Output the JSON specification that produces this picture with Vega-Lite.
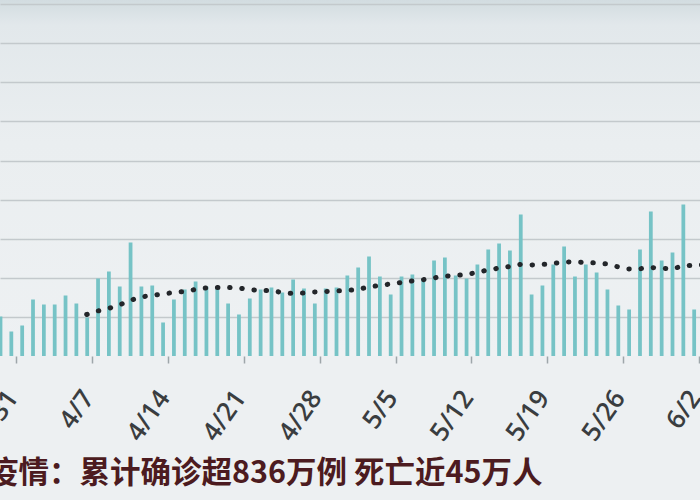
{
  "$schema": "https://vega.github.io/schema/vega-lite/v6.json",
  "width": 700,
  "height": 356,
  "autosize": {"type": "none"},
  "padding": {"left": 0, "top": 0, "right": 0, "bottom": 144},
  "background": "#edf0f2",
  "config": {
    "view": {
      "stroke": null,
      "fill": {
        "gradient": "linear", "x1": 0, "y1": 0, "x2": 0, "y2": 1,
        "stops": [
          {"offset": 0, "color": "#d2dce0"},
          {"offset": 0.07, "color": "#e2e8eb"},
          {"offset": 0.4, "color": "#eaeef0"},
          {"offset": 1, "color": "#eef1f3"}
        ]
      }
    }
  },
  "title": {
    "text": "疫情：累计确诊超836万例 死亡近45万人",
    "orient": "bottom",
    "anchor": "start",
    "frame": "group",
    "dx": -12,
    "offset": 14,
    "font": "Noto Sans CJK SC",
    "fontSize": 30.5,
    "fontWeight": "bold",
    "color": "#4c1b20"
  },
  "datasets": {
    "bars": [
      {"date": "2020-03-29", "cases": 20200},
      {"date": "2020-03-30", "cases": 12530},
      {"date": "2020-03-31", "cases": 15600},
      {"date": "2020-04-01", "cases": 28900},
      {"date": "2020-04-02", "cases": 26340},
      {"date": "2020-04-03", "cases": 26340},
      {"date": "2020-04-04", "cases": 30950},
      {"date": "2020-04-05", "cases": 26850},
      {"date": "2020-04-06", "cases": 19690},
      {"date": "2020-04-07", "cases": 39640},
      {"date": "2020-04-08", "cases": 43220},
      {"date": "2020-04-09", "cases": 35550},
      {"date": "2020-04-10", "cases": 58060},
      {"date": "2020-04-11", "cases": 35550},
      {"date": "2020-04-12", "cases": 36060},
      {"date": "2020-04-13", "cases": 17140},
      {"date": "2020-04-14", "cases": 28900},
      {"date": "2020-04-15", "cases": 34020},
      {"date": "2020-04-16", "cases": 38110},
      {"date": "2020-04-17", "cases": 35550},
      {"date": "2020-04-18", "cases": 35550},
      {"date": "2020-04-19", "cases": 26850},
      {"date": "2020-04-20", "cases": 21230},
      {"date": "2020-04-21", "cases": 29410},
      {"date": "2020-04-22", "cases": 34020},
      {"date": "2020-04-23", "cases": 35040},
      {"date": "2020-04-24", "cases": 32480},
      {"date": "2020-04-25", "cases": 39130},
      {"date": "2020-04-26", "cases": 34530},
      {"date": "2020-04-27", "cases": 26850},
      {"date": "2020-04-28", "cases": 34530},
      {"date": "2020-04-29", "cases": 35040},
      {"date": "2020-04-30", "cases": 41180},
      {"date": "2020-05-01", "cases": 45270},
      {"date": "2020-05-02", "cases": 50900},
      {"date": "2020-05-03", "cases": 40660},
      {"date": "2020-05-04", "cases": 31460},
      {"date": "2020-05-05", "cases": 40660},
      {"date": "2020-05-06", "cases": 41690},
      {"date": "2020-05-07", "cases": 39640},
      {"date": "2020-05-08", "cases": 48850},
      {"date": "2020-05-09", "cases": 50380},
      {"date": "2020-05-10", "cases": 41180},
      {"date": "2020-05-11", "cases": 39640},
      {"date": "2020-05-12", "cases": 46800},
      {"date": "2020-05-13", "cases": 54480},
      {"date": "2020-05-14", "cases": 57540},
      {"date": "2020-05-15", "cases": 53960},
      {"date": "2020-05-16", "cases": 72380},
      {"date": "2020-05-17", "cases": 31460},
      {"date": "2020-05-18", "cases": 36060},
      {"date": "2020-05-19", "cases": 46800},
      {"date": "2020-05-20", "cases": 56010},
      {"date": "2020-05-21", "cases": 40660},
      {"date": "2020-05-22", "cases": 46800},
      {"date": "2020-05-23", "cases": 42710},
      {"date": "2020-05-24", "cases": 34020},
      {"date": "2020-05-25", "cases": 25830},
      {"date": "2020-05-26", "cases": 23790},
      {"date": "2020-05-27", "cases": 54480},
      {"date": "2020-05-28", "cases": 73910},
      {"date": "2020-05-29", "cases": 48850},
      {"date": "2020-05-30", "cases": 52940},
      {"date": "2020-05-31", "cases": 77490},
      {"date": "2020-06-01", "cases": 23790}
    ],
    "ma": [
      {"date": "2020-04-06", "avg": 21230},
      {"date": "2020-04-07", "avg": 23020},
      {"date": "2020-04-08", "avg": 24300},
      {"date": "2020-04-09", "avg": 26090},
      {"date": "2020-04-10", "avg": 28390},
      {"date": "2020-04-11", "avg": 30180},
      {"date": "2020-04-12", "avg": 30950},
      {"date": "2020-04-13", "avg": 31710},
      {"date": "2020-04-14", "avg": 32480},
      {"date": "2020-04-15", "avg": 32990},
      {"date": "2020-04-16", "avg": 34020},
      {"date": "2020-04-17", "avg": 34780},
      {"date": "2020-04-18", "avg": 35040},
      {"date": "2020-04-19", "avg": 35040},
      {"date": "2020-04-20", "avg": 34780},
      {"date": "2020-04-21", "avg": 34020},
      {"date": "2020-04-22", "avg": 33500},
      {"date": "2020-04-23", "avg": 33500},
      {"date": "2020-04-24", "avg": 32480},
      {"date": "2020-04-25", "avg": 31970},
      {"date": "2020-04-26", "avg": 32220},
      {"date": "2020-04-27", "avg": 32740},
      {"date": "2020-04-28", "avg": 32990},
      {"date": "2020-04-29", "avg": 33250},
      {"date": "2020-04-30", "avg": 33500},
      {"date": "2020-05-01", "avg": 34020},
      {"date": "2020-05-02", "avg": 35290},
      {"date": "2020-05-03", "avg": 36060},
      {"date": "2020-05-04", "avg": 36830},
      {"date": "2020-05-05", "avg": 37600},
      {"date": "2020-05-06", "avg": 38360},
      {"date": "2020-05-07", "avg": 38980},
      {"date": "2020-05-08", "avg": 39900},
      {"date": "2020-05-09", "avg": 40820},
      {"date": "2020-05-10", "avg": 41180},
      {"date": "2020-05-11", "avg": 41690},
      {"date": "2020-05-12", "avg": 42710},
      {"date": "2020-05-13", "avg": 43990},
      {"date": "2020-05-14", "avg": 44910},
      {"date": "2020-05-15", "avg": 45780},
      {"date": "2020-05-16", "avg": 46800},
      {"date": "2020-05-17", "avg": 46550},
      {"date": "2020-05-18", "avg": 46800},
      {"date": "2020-05-19", "avg": 47310},
      {"date": "2020-05-20", "avg": 48080},
      {"date": "2020-05-21", "avg": 48180},
      {"date": "2020-05-22", "avg": 47830},
      {"date": "2020-05-23", "avg": 47570},
      {"date": "2020-05-24", "avg": 47060},
      {"date": "2020-05-25", "avg": 45630},
      {"date": "2020-05-26", "avg": 44500},
      {"date": "2020-05-27", "avg": 44600},
      {"date": "2020-05-28", "avg": 45270},
      {"date": "2020-05-29", "avg": 45010},
      {"date": "2020-05-30", "avg": 44500},
      {"date": "2020-05-31", "avg": 46040},
      {"date": "2020-06-01", "avg": 46450},
      {"date": "2020-06-02", "avg": 46550}
    ]
  },
  "layer": [
    {
      "data": {"name": "bars"},
      "mark": {"type": "bar", "width": {"band": 0.44}, "color": "#76c3c6", "clip": true},
      "encoding": {
        "x": {
          "field": "date",
          "timeUnit": "utcyearmonthdate",
          "type": "temporal",
          "scale": {
            "domain": [
              {"year": 2020, "month": 3, "date": 29, "hours": 12, "utc": true},
              {"year": 2020, "month": 6, "date": 2, "hours": 2, "utc": true}
            ],
            "nice": false
          },
          "axis": {
            "title": null,
            "values": [
              {"year": 2020, "month": 3, "date": 31, "utc": true},
              {"year": 2020, "month": 4, "date": 7, "utc": true},
              {"year": 2020, "month": 4, "date": 14, "utc": true},
              {"year": 2020, "month": 4, "date": 21, "utc": true},
              {"year": 2020, "month": 4, "date": 28, "utc": true},
              {"year": 2020, "month": 5, "date": 5, "utc": true},
              {"year": 2020, "month": 5, "date": 12, "utc": true},
              {"year": 2020, "month": 5, "date": 19, "utc": true},
              {"year": 2020, "month": 5, "date": 26, "utc": true},
              {"year": 2020, "month": 6, "date": 2, "utc": true}
            ],
            "labelExpr": "utcFormat(datum.value, '%-m/%-d')",
            "labelAngle": -55,
            "labelFont": "Open Sans",
            "labelFontWeight": 600,
            "labelFontSize": 26,
            "labelColor": "#3a3d40",
            "labelPadding": 30,
            "labelOffset": -4,
            "labelOverlap": false,
            "labelBound": false,
            "labelFlush": false,
            "domain": false,
            "grid": false,
            "tickColor": "#9ea6aa",
            "tickWidth": 1.5,
            "tickSize": 7
          }
        },
        "y": {
          "field": "cases",
          "type": "quantitative",
          "scale": {"domain": [0, 182100], "nice": false},
          "axis": {
            "title": null,
            "labels": false,
            "ticks": false,
            "domain": false,
            "grid": true,
            "values": [20000, 40000, 60000, 80000, 100000, 120000, 140000, 160000, 180000],
            "gridColor": "#c3c9cc",
            "gridWidth": 1.6
          }
        }
      }
    },
    {
      "data": {"name": "ma"},
      "mark": {"type": "line", "color": "#23262a", "strokeWidth": 5, "strokeCap": "round", "strokeDash": [0.5, 11.7], "clip": true},
      "encoding": {
        "x": {"field": "date", "timeUnit": "utcyearmonthdate", "type": "temporal", "bandPosition": 0.5},
        "y": {"field": "avg", "type": "quantitative"}
      }
    }
  ]
}
